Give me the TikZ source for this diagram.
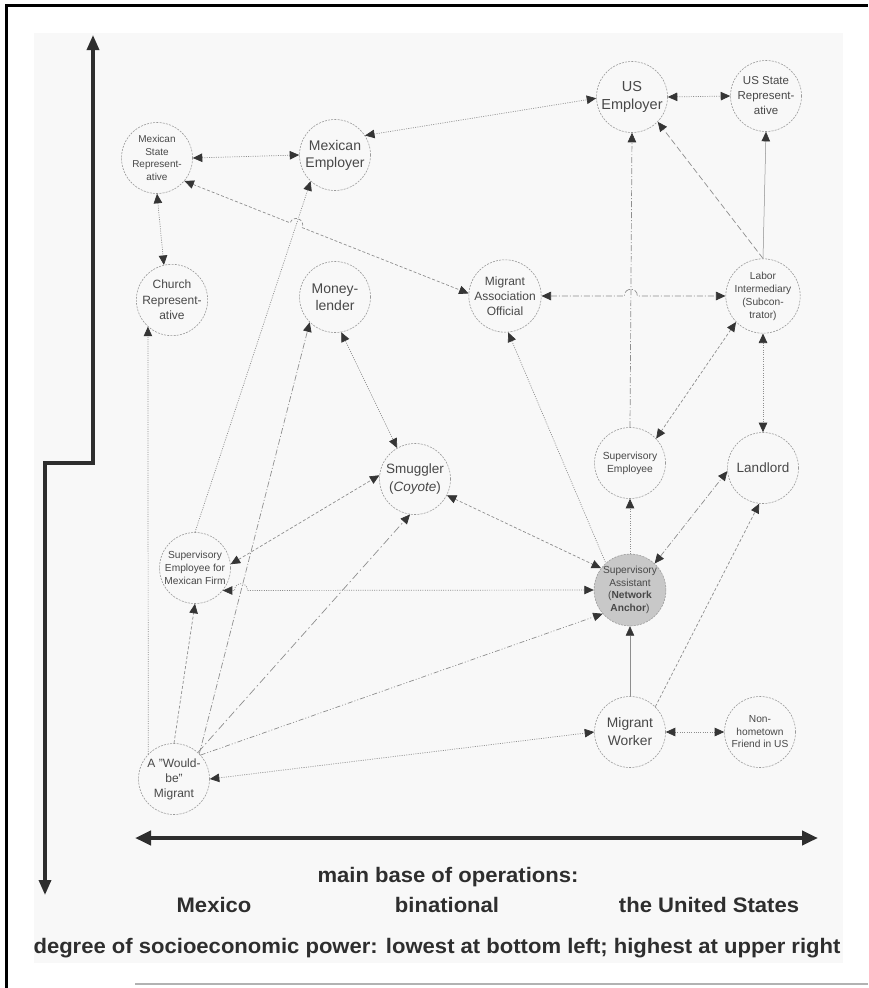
\documentclass[tikz,border=0pt]{standalone}
\usepackage{fontspec}
\setmainfont{Liberation Sans}
\usetikzlibrary{arrows.meta,calc}
\definecolor{edgec}{HTML}{8E8E8E}
\definecolor{tipc}{HTML}{353535}
\definecolor{txtc}{HTML}{484848}
\definecolor{circc}{HTML}{9A9A9A}
\definecolor{axisc}{HTML}{2E2E2E}
\definecolor{bgc}{HTML}{F8F8F8}
\definecolor{anchorfill}{HTML}{C8C8C8}
\newcommand{\fsz}[2]{\fontsize{#1}{#2}\selectfont}
% hop connector: #1 style, #2 from, #3 to, #4/#5 crossed line, #6/#7 bump rotation
\newcommand{\hopdraw}[7]{%
  \coordinate (hc) at (intersection of #2--#3 and #4--#5);
  \coordinate (hpa) at ($(hc)!6.5pt!(#2)$);
  \coordinate (hpb) at ($(hc)!6.5pt!(#3)$);
  \coordinate (hqa) at ($(hpa)!9pt!#6:(hc)$);
  \coordinate (hqb) at ($(hpb)!9pt!#7:(hc)$);
  \draw[#1] (#2) -- (hpa) .. controls (hqa) and (hqb) .. (hpb) -- (#3);
}
\tikzset{
  actor/.style={circle, draw=circc, line width=0.6pt, dash pattern=on 2pt off 1.2pt,
    minimum size=71pt, inner sep=0pt, align=center, text=txtc},
  link/.style={draw=edgec, line width=0.7pt, >={Triangle[length=9.5pt,width=8.5pt,color=tipc]}},
  ldot/.style={link, dash pattern=on 1pt off 1.3pt},
  ldash/.style={link, dash pattern=on 3pt off 2pt},
  llong/.style={link, dash pattern=on 6pt off 3pt},
  ldd/.style={link, dash pattern=on 6pt off 2pt on 1pt off 2pt},
  llongdd/.style={link, dash pattern=on 8pt off 3pt on 1.5pt off 3pt},
  lddd/.style={link, dash pattern=on 5pt off 2pt on 1pt off 2pt on 1pt off 2pt},
  lsolid/.style={link, line width=0.5pt},
  axis/.style={draw=axisc, line join=miter},
  caption/.style={font=\fsz{21}{24}\bfseries, text=axisc, anchor=base, inner sep=0pt, xscale=1.05},
}
\begin{document}
\begin{tikzpicture}[x=1pt,y=-1pt]
\useasboundingbox (0,0) rectangle (868,988);
% frame and background
\fill[white] (0,0) rectangle (868,988);
\fill[bgc] (34,33) rectangle (843,963);
\draw[black, line width=3pt] (6.5,988) -- (6.5,5.5) -- (868,5.5);
\draw[gray!60, line width=1.5pt] (135,984) -- (868,984);

% axes
\coordinate (vtop) at (93,35);
\coordinate (vbend1) at (93,463);
\coordinate (vbend2) at (45,463);
\coordinate (vbot) at (45,895);
\draw[axis, line width=3.3pt, {Triangle[length=15pt,width=12pt]}-{Triangle[length=15pt,width=12pt]}]
  (vtop) -- (vbend1) -- (vbend2) -- (vbot);
\coordinate (hleft) at (135,838);
\coordinate (hright) at (818,838);
\draw[axis, line width=4pt, {Triangle[length=16pt,width=14pt]}-{Triangle[length=16pt,width=14pt]}]
  (hleft) -- (hright);

% actors
\node[actor, font=\fsz{10}{12.5}] (msr) at (157,158) {Mexican\\State\\Represent-\\ative};
\node[actor, font=\fsz{14}{17}] (memp) at (335,155) {Mexican\\Employer};
\node[actor, font=\fsz{14.5}{18}] (usemp) at (632,97) {US\\Employer};
\node[actor, font=\fsz{11.5}{15}] (ussr) at (766,96) {US State\\Represent-\\ative};
\node[actor, font=\fsz{12}{15.5}] (church) at (172,300) {Church\\Represent-\\ative};
\node[actor, font=\fsz{14}{17.5}] (money) at (335,297) {Money-\\lender};
\node[actor, font=\fsz{12}{15}] (mao) at (505,296) {Migrant\\Association\\Official};
\node[actor, font=\fsz{10.2}{13}] (labor) at (763,296) {Labor\\Intermediary\\(Subcon-\\trator)};
\node[actor, font=\fsz{13.5}{18}] (smug) at (415,479) {Smuggler\\(\textit{Coyote})};
\node[actor, font=\fsz{10.3}{12.7}] (supemp) at (630,463) {Supervisory\\Employee};
\node[actor, font=\fsz{13.5}{17}] (land) at (763,468) {Landlord};
\node[actor, font=\fsz{10.2}{13}] (semf) at (195,568) {Supervisory\\Employee for\\Mexican Firm};
\node[actor, fill=anchorfill, font=\fsz{10.2}{12.7}] (sa) at (630,590) {Supervisory\\Assistant\\(\textbf{Network}\\\textbf{Anchor})};
\node[actor, font=\fsz{13.8}{18}] (mw) at (630,732) {Migrant\\Worker};
\node[actor, font=\fsz{10.2}{12.5}] (friend) at (760,732) {Non-\\hometown\\Friend in US};
\node[actor, font=\fsz{12}{15}] (wb) at (174,779) {A "Would-\\be"\\Migrant};

% connectors
\draw[ldot,<->] (msr.east) -- (memp.west);
\draw[ldot,<->] (memp.33) -- (usemp.182);
\draw[ldot,<->] (usemp.east) -- (ussr.west);
\draw[ldot,<->] (msr.south) -- (church.103);
\hopdraw{ldash,<->}{msr.320}{mao.176}{semf.north}{memp.227}{90}{-90}
\hopdraw{ldd,<->}{mao.east}{labor.west}{supemp.north}{usemp.south}{90}{-90}
\draw[llong,->] (labor.north) -- (usemp.316);
\draw[lsolid,->] (labor.north) -- (ussr.south);
\draw[ldd,->] (supemp.north) -- (usemp.south);
\draw[ldash,<->] (labor.224) -- (supemp.43);
\draw[ldot,<->] (labor.south) -- (land.north);
\draw[ldot,->] (sa.north) -- (supemp.south);
\draw[ldd,<->] (sa.47) -- (land.185);
\draw[lsolid,->] (mw.north) -- (sa.south);
\draw[ldash,->] (mw.45) -- (land.264);
\draw[ldot,<->] (mw.east) -- (friend.west);
\draw[ldot,<->] (wb.east) -- (mw.west);
\draw[ldot,->] (wb.136) -- (church.228);
\draw[ldash,->] (wb.north) -- (semf.south);
\draw[ldd,->] (wb.45) -- (money.225);
\draw[llongdd,->] (wb.48) -- (smug.262);
\draw[lddd,->] (wb.42) -- (sa.221);
\draw[ldot,->] (semf.north) -- (memp.227);
\draw[ldash,<->] (semf.6) -- (smug.174);
\hopdraw{ldot,<->}{sa.west}{semf.321}{wb.45}{money.225}{-90}{90}
\draw[ldot,<->] (money.280) -- (smug.120);
\draw[ldash,<->] (smug.333) -- (sa.143);
\draw[ldot,<-] (mao.275) -- (sa.132);

% captions
\node[caption] (cap1) at (448,882) {main base of operations:};
\node[caption] (cap2) at (214,912) {Mexico};
\node[caption] (cap3) at (447,912) {binational};
\node[caption] (cap4) at (709,912) {the United States};
\node[caption] (cap5) at (437,953) {degree of socioeconomic power: lowest at bottom left; highest at upper right};
\end{tikzpicture}
\end{document}
